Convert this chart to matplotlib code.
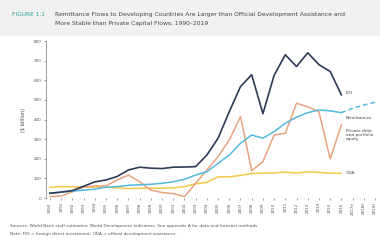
import matplotlib.pyplot as plt
from matplotlib.patches import Rectangle

# ---------------------------------------------------------------------------
# data ($ billion)

years = list(range(1990, 2017))
fdi = [24, 30, 38, 60, 82, 92, 110, 143, 157, 152, 150, 157, 158, 160, 219,
       305, 440, 568, 628, 430, 625, 730, 670, 740, 680, 645, 526]
private = [7, 10, 32, 55, 61, 62, 92, 117, 83, 40, 28, 22, 7, 75, 143,
           211, 296, 415, 140, 185, 321, 330, 483, 465, 440, 200, 372]
remit = [25, 30, 35, 40, 45, 55, 58, 65, 67, 70, 75, 83, 95, 117, 134,
         177, 219, 279, 321, 305, 338, 381, 412, 435, 449, 444, 435]
oda = [55, 58, 57, 55, 56, 55, 52, 48, 50, 50, 50, 52, 58, 72, 80,
       108, 108, 115, 125, 127, 128, 132, 128, 133, 130, 127, 126]

fc_years = [2017, 2018, 2019]
remit_fc = [457, 474, 488]

tick_years = list(range(1990, 2020))
tick_labels = [str(y) for y in tick_years[:-3]] + ['2017e', '2018f', '2019f']
yticks = [0, 100, 200, 300, 400, 500, 600, 700, 800]

# ---------------------------------------------------------------------------

fig = plt.figure(figsize=(3.8, 2.4), dpi=100)
fig.patches.append(Rectangle((0, 0.855), 1, 0.145, transform=fig.transFigure,
                             color='#f1f1f1', zorder=0))

fig.text(0.032, 0.938, 'FIGURE 1.1', fontsize=4.2, color='#2aa39a', va='center')
fig.text(0.145, 0.938, 'Remittance Flows to Developing Countries Are Larger than '
         'Official Development Assistance and', fontsize=4.3, color='#444444', va='center')
fig.text(0.145, 0.9, 'More Stable than Private Capital Flows, 1990\u20132019',
         fontsize=4.3, color='#444444', va='center')

ax = fig.add_axes([0.121, 0.175, 0.879, 0.654])

navy = '#2d3b55'
blue = '#52b9dc'
orange = '#e9a37e'
yellow = '#f3c94a'

ax.plot(years, oda, color=yellow, lw=1.1)
ax.plot(years, private, color=orange, lw=1.1)
ax.plot(years, remit, color=blue, lw=1.1)
ax.plot([years[-1]] + fc_years, [remit[-1]] + remit_fc, color=blue, lw=1.1,
        linestyle=(0, (3, 2)))
ax.plot(years, fdi, color=navy, lw=1.2)

lab = dict(fontsize=3.1, color='#444444', va='center', ha='left')
ax.text(2016.4, 533, 'FDI', **lab)
ax.text(2016.4, 406, 'Remittances', **lab)
ax.text(2016.4, 320, 'Private debt\nand portfolio\nequity', linespacing=1.05, **lab)
ax.text(2016.4, 126, 'ODA', **lab)

ax.set_xlim(1989.64, 2019.45)
ax.set_ylim(0, 800)
ax.set_yticks(yticks)
ax.set_yticklabels([str(v) for v in yticks])
ax.set_xticks(tick_years)
ax.set_xticklabels(tick_labels, rotation=90)
ax.tick_params(axis='both', labelsize=3, colors='#555555', length=1.5, width=0.4, pad=1.5)
ax.set_ylabel('($ billion)', fontsize=3.6, color='#444444', labelpad=6)

for s in ['top', 'right']:
    ax.spines[s].set_visible(False)
ax.spines['left'].set_linewidth(0.5)
ax.spines['left'].set_color('#777777')
ax.spines['bottom'].set_visible(False)

fig.text(0.026, 0.053, 'Sources: World Bank staff estimates; World Development Indicators. '
         'See appendix A for data and forecast methods.', fontsize=3.1, color='#555555')
fig.text(0.026, 0.022, 'Note: FDI = foreign direct investment; ODA = official development assistance.',
         fontsize=3.1, color='#555555')

fig.savefig('out.png', dpi=100)
